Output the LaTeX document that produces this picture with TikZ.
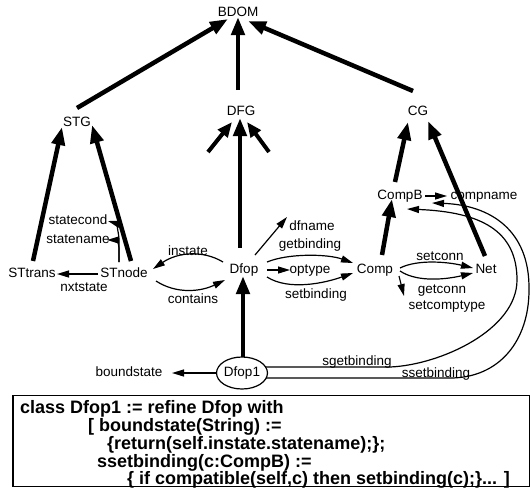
\documentclass[tikz,border=0pt]{standalone}
\usepackage{fontspec}
\setmainfont{Liberation Sans}
\usetikzlibrary{arrows.meta,shapes.geometric}
\begin{document}
\begin{tikzpicture}[x=1pt,y=-1pt,
  lab/.style={font=\fontsize{13.5}{16}\selectfont, inner sep=0pt, text height=9.7pt, text depth=2.9pt},
  isa/.style={line width=4.5pt, -{Triangle[length=18pt,width=13pt]}},
  stub/.style={line width=4pt, -{Triangle[length=15pt,width=12pt]}},
  rel/.style={line width=1.2pt, -{Triangle[length=12pt,width=7pt]}},
  code/.style={font=\fontsize{18}{18}\selectfont\bfseries, inner sep=0pt, anchor=base west}]
\useasboundingbox (0,0) rectangle (530,488);

% class hierarchy
\node[lab] (bdom) at (238,13) {BDOM};
\node[lab] (dfg) at (241,112) {DFG};
\node[lab] (stg) at (77,123) {STG};
\node[lab] (cg) at (418,112) {CG};

% state transition graph
\node[lab] (sttrans) at (32,274) {STtrans};
\node[lab] (stnode) at (124,274) {STnode};
\node[lab] (nxtstate) at (84,288) {nxtstate};
\node[lab] (statecond) at (78,221) {statecond};
\node[lab] (statename) at (78,240) {statename};
\node[lab] (instate) at (188,252) {instate};
\node[lab] (contains) at (193,300) {contains};

% data flow graph
\node[lab] (dfop) at (244,270) {Dfop};
\node[lab] (dfname) at (312,227) {dfname};
\node[lab] (getbinding) at (310,245) {getbinding};
\node[lab] (optype) at (310,270) {optype};
\node[lab] (setbinding) at (316,295) {setbinding};

% component graph
\node[lab] (comp) at (375,270) {Comp};
\node[lab] (net) at (486,270) {Net};
\node[lab] (setconn) at (440,257) {setconn};
\node[lab] (getconn) at (442,290) {getconn};
\node[lab] (setcomptype) at (447,306) {setcomptype};
\node[lab] (compb) at (400,196) {CompB};
\node[lab] (compname) at (484,196) {compname};

% refined operation
\node[ellipse, draw, line width=1.2pt, minimum width=50pt, minimum height=32pt, inner sep=0pt,
      font=\fontsize{13.5}{16}\selectfont] (dfop1) at (242,373) {Dfop1};
\node[lab] (boundstate) at (129,373) {boundstate};
\node[lab] (sgetbinding) at (357,362) {sgetbinding};
\node[lab] (ssetbinding) at (436,374) {ssetbinding};

% attribute and relation arrows
\draw[rel] ([shift={(-26,0)}]stnode.center) -- ([shift={(25,0)}]sttrans.center);
\draw[rel] ([shift={(-5,-12)}]stnode.center) -- ++(0,-14)
  .. controls +(0,-6) and +(8,0) .. ([shift={(29,0)}]statename.center);
\draw[rel] ([shift={(-5,-12)}]stnode.center) -- ++(0,-22)
  .. controls +(0,-8) and +(7,2) .. ([shift={(30,0)}]statecond.center);
\draw[rel] ([shift={(-21,-8)}]dfop.center) .. controls +(-20,-12) and +(25,-17) .. ([shift={(29,-5)}]stnode.center);
\draw[rel] ([shift={(32,7)}]stnode.center) .. controls +(20,13) and +(-25,12) .. ([shift={(-19,10)}]dfop.center);
\draw[rel] ([shift={(11,-15)}]dfop.center) -- ([shift={(-25,-10)}]dfname.center);
\draw[rel] ([shift={(23,-8)}]dfop.center) .. controls +(22,-9) and +(-25,-9) .. ([shift={(-22,-7)}]comp.center);
\draw[rel] ([shift={(23,0)}]dfop.center) -- ([shift={(-20,0)}]optype.center);
\draw[rel] ([shift={(23,7)}]dfop.center) .. controls +(22,14) and +(-28,10) .. ([shift={(-22,3)}]comp.center);
\draw[rel] ([shift={(25,-2)}]comp.center) .. controls +(18,-9) and +(-25,-6) .. ([shift={(-13,-2)}]net.center);
\draw[rel] ([shift={(25,1)}]comp.center) .. controls +(18,12) and +(-25,6) .. ([shift={(-13,3)}]net.center);
\draw[rel] ([shift={(24,6)}]comp.center) -- ([shift={(-43,-10)}]setcomptype.center);
\draw[rel] ([shift={(25,0)}]compb.center) -- ([shift={(-37,0)}]compname.center);
\draw[rel] (dfop1.west) -- ([shift={(43,0)}]boundstate.center);
\draw[rel] ([shift={(23,-6)}]dfop1.center) -- (390,367)
  .. controls (440,365) and (517,330) .. (517,280)
  .. controls (517,230) and (480,212) .. ([shift={(7,13)}]compb.center);
\draw[rel] ([shift={(24,5)}]dfop1.center) -- (450,378)
  .. controls (500,378) and (529,340) .. (529,290)
  .. controls (530,230) and (490,205) .. ([shift={(32,7)}]compb.center);

% inheritance arrows
\draw[isa] ([shift={(0,-15)}]stg.center) -- ([shift={(-10,6)}]bdom.center);
\draw[isa] ([shift={(-3,-22)}]dfg.center) -- ([shift={(0,4)}]bdom.center);
\draw[isa] ([shift={(-5,-21)}]cg.center) -- ([shift={(10,8)}]bdom.center);
\draw[isa] ([shift={(1,-13)}]sttrans.center) -- ([shift={(-15,4)}]stg.center);
\draw[isa] ([shift={(7,-13)}]stnode.center) -- ([shift={(15,2)}]stg.center);
\coordinate (subl) at (208,152);
\coordinate (subr) at (269,152);
\draw[stub] (subl) -- ([shift={(-9,10)}]dfg.center);
\draw[stub] (subr) -- ([shift={(6,10)}]dfg.center);
\draw[isa] ([shift={(-4,-22)}]dfop.center) -- ([shift={(-1,6)}]dfg.center);
\draw[isa] ([shift={(1,-16)}]dfop1.center) -- ([shift={(-1,6)}]dfop.center);
\draw[isa] ([shift={(7,-15)}]comp.center) -- ([shift={(-8,3)}]compb.center);
\draw[isa] ([shift={(-5,-14)}]compb.center) -- ([shift={(-10,10)}]cg.center);
\draw[isa] ([shift={(-1,-14)}]net.center) -- ([shift={(10,9)}]cg.center);

% class definition
\node[draw, line width=1.5pt, minimum width=517pt, minimum height=91pt, inner sep=0pt,
      anchor=north west] (classbox) at (12,394.5) {};
\node[code] (l1) at (20,413) {class Dfop1 := refine Dfop with};
\node[code] (l2) at (88,431) {[ boundstate(String) :=};
\node[code] (l3) at (107,449) {\{return(self.instate.statename);\};};
\node[code] (l4) at (97,467) {ssetbinding(c:CompB) :=};
\node[code] (l5) at (127,484) {\{ if compatible(self,c) then setbinding(c);\}... ]};
\end{tikzpicture}
\end{document}
